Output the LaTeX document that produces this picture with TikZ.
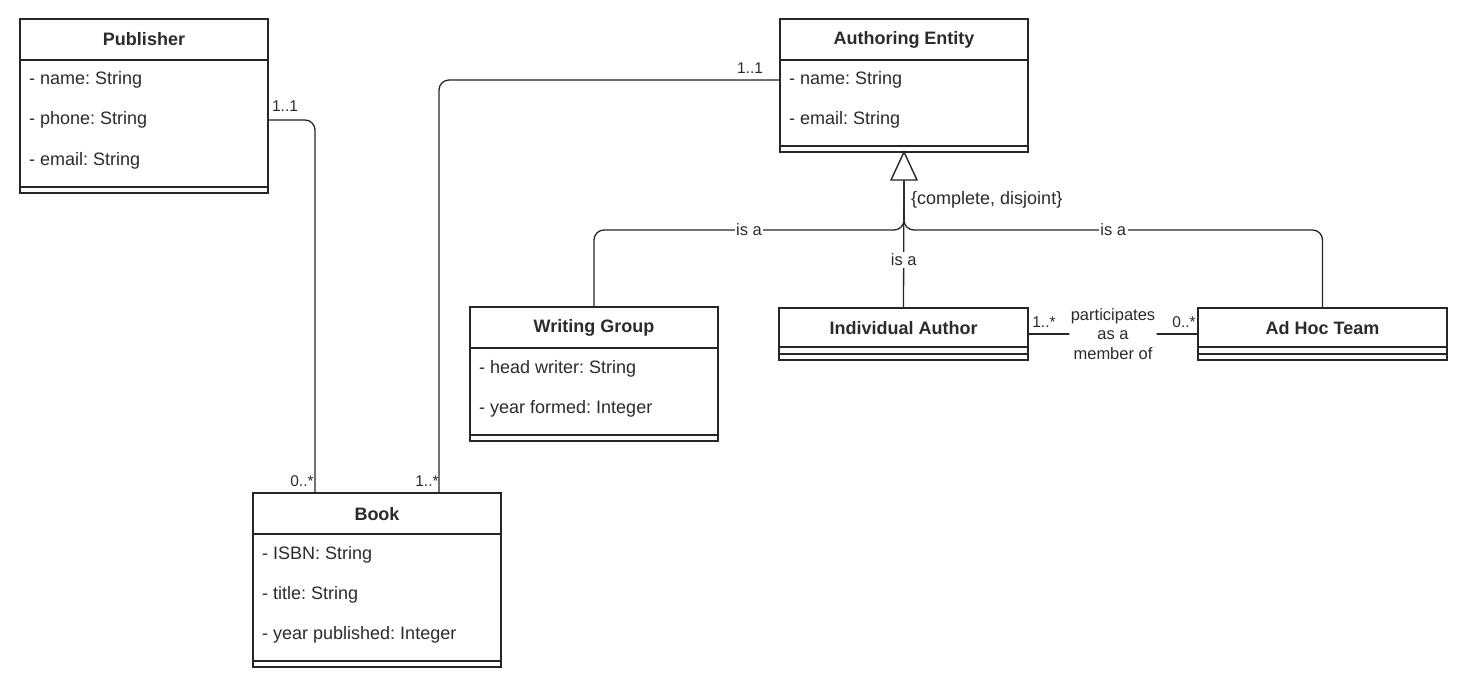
\documentclass[tikz,border=0pt]{standalone}
\usepackage{fontspec}
\setmainfont{Liberation Sans}
\definecolor{txt}{HTML}{2B2B2B}
\definecolor{linec}{HTML}{262626}
\frenchspacing
\begin{document}
\begin{tikzpicture}[x=1pt,y=-1pt,
  box/.style={draw=linec, line width=1.4pt, fill=white, inner sep=0pt, outer sep=0pt, anchor=north west},
  sepl/.style={draw=linec, line width=1.4pt},
  ttl/.style={font=\fontsize{18}{20}\selectfont\bfseries, text=txt, inner sep=0pt},
  attr/.style={font=\fontsize{18}{20}\selectfont, text=txt, anchor=west, inner sep=0pt},
  mult/.style={font=\fontsize{15.5}{17}\selectfont, text=txt, inner sep=0pt},
  elab/.style={font=\fontsize{16.5}{19.5}\selectfont, text=txt, fill=white, inner sep=1.5pt},
  conn/.style={draw=linec, line width=1.3pt, rounded corners=10pt},
]
\useasboundingbox[fill=white] (0,0) rectangle (1467,694);

% ---------- Publisher ----------
\node[box, minimum width=248pt, minimum height=174pt] (pub) at (20,19) {};
\draw[sepl] (20,60) -- (268,60);
\draw[sepl] (20,187) -- (268,187);
\node[ttl] (pubT) at (144,39.5) {Publisher};
\node[attr] (pub1) at (29,80) {- name: String};
\node[attr] (pub2) at (29,120) {- phone: String};
\node[attr] (pub3) at (29,161) {- email: String};

% ---------- Authoring Entity ----------
\node[box, minimum width=248pt, minimum height=133pt] (ae) at (780,19) {};
\draw[sepl] (780,60) -- (1028,60);
\draw[sepl] (780,146) -- (1028,146);
\node[ttl] (aeT) at (904,39.5) {Authoring Entity};
\node[attr] (ae1) at (789,80) {- name: String};
\node[attr] (ae2) at (789,120) {- email: String};

% ---------- Writing Group ----------
\node[box, minimum width=248pt, minimum height=134pt] (wg) at (470,307) {};
\draw[sepl] (470,348) -- (718,348);
\draw[sepl] (470,435) -- (718,435);
\node[ttl] (wgT) at (594,328) {Writing Group};
\node[attr] (wg1) at (479,369) {- head writer: String};
\node[attr] (wg2) at (479,409) {- year formed: Integer};

% ---------- Individual Author ----------
\node[box, minimum width=249pt, minimum height=52pt] (ia) at (779,308) {};
\draw[sepl] (779,347) -- (1028,347);
\draw[sepl] (779,354) -- (1028,354);
\node[ttl] (iaT) at (903.5,328) {Individual Author};

% ---------- Ad Hoc Team ----------
\node[box, minimum width=249pt, minimum height=52pt] (aht) at (1198,308) {};
\draw[sepl] (1198,347) -- (1447,347);
\draw[sepl] (1198,354) -- (1447,354);
\node[ttl] (ahtT) at (1322.5,328) {Ad Hoc Team};

% ---------- Book ----------
\node[box, minimum width=248pt, minimum height=174pt] (book) at (253,493) {};
\draw[sepl] (253,534) -- (501,534);
\draw[sepl] (253,661) -- (501,661);
\node[ttl] (bookT) at (377,514) {Book};
\node[attr] (book1) at (262,555) {- ISBN: String};
\node[attr] (book2) at (262,595) {- title: String};
\node[attr] (book3) at (262,635) {- year published: Integer};

% ---------- Associations ----------
\coordinate (bookA) at ([xshift=62pt]book.north west);
\coordinate (bookB) at ([xshift=186pt]book.north west);
\draw[conn] (pub.east |- pub2) -| (bookA);
\draw[conn] (bookB) |- (ae.west |- ae1);
\node[mult] (m1) at (285,106) {1..1};
\node[mult] (m2) at (302,481) {0..*};
\node[mult] (m3) at (427,481) {1..*};
\node[mult] (m4) at (750,68) {1..1};

% ---------- Generalization ----------
\coordinate (trib) at ([yshift=-28pt]ae.south);
\coordinate (junc) at ([yshift=-50pt]trib);
\draw[conn] (wg.north) |- (junc) -- (trib);
\draw[conn] (aht.north) |- (junc) -- (trib);
\draw[conn] (ia.north) -- (trib);
\draw[draw=linec, line width=1.4pt, fill=white, line join=miter] (ae.south) -- ([xshift=13pt]trib) -- ([xshift=-13pt]trib) -- cycle;
\path (wg.north) |- node[pos=0.75, elab] (isa1) {is a} (junc);
\path (aht.north) |- node[pos=0.75, elab] (isa2) {is a} (junc);
\path (ia.north) -- node[pos=0.375, elab] (isa3) {is a} (trib);
\node[font=\fontsize{18}{20}\selectfont, text=txt, anchor=west, inner sep=0pt] (cd) at (911,200) {\{complete, disjoint\}};

% ---------- participates ----------
\draw[conn] (ia.east) -- node[midway, elab, align=center] (part) {participates\\as a\\member of} (aht.west);
\node[mult] (m5) at (1044,322) {1..*};
\node[mult] (m6) at (1184,322) {0..*};
\end{tikzpicture}
\end{document}
